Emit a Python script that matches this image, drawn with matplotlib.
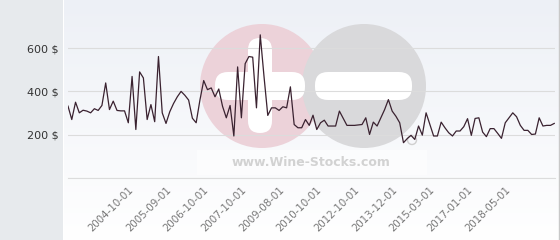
import matplotlib
matplotlib.use("Agg")
import matplotlib.pyplot as plt
import numpy as np
from matplotlib.patches import Circle, FancyBboxPatch, Rectangle

# price per bottle, one value per trade
prices = [332, 270, 350, 301, 313, 309, 301, 320, 312, 335, 439, 316, 355, 312, 310, 310,
          255, 469, 224, 490, 462, 270, 339, 260, 561, 301, 252, 306, 344, 375, 400, 382,
          360, 276, 255, 360, 450, 408, 416, 375, 411, 331, 278, 335, 194, 513, 278, 528,
          561, 558, 324, 661, 469, 289, 324, 324, 312, 329, 324, 421, 247, 232, 232, 270,
          243, 290, 224, 255, 267, 240, 240, 240, 309, 276, 243, 243, 243, 245, 247, 278,
          201, 258, 240, 278, 316, 362, 309, 285, 255, 163, 182, 197, 178, 240, 198, 301,
          247, 194, 194, 258, 232, 209, 194, 217, 217, 237, 274, 197, 275, 278, 212, 191,
          228, 228, 206, 183, 255, 278, 301, 283, 243, 220, 220, 201, 203, 278, 240, 243,
          243, 252]
tick_labels = ['2004-10-01', '2005-09-01', '2006-10-01', '2007-10-01', '2009-08-01',
               '2010-10-01', '2012-10-01', '2013-12-01', '2015-03-01', '2017-01-01',
               '2018-05-01']
y_ticks = [0, 200, 400, 600]

W, H = 560, 240
fig = plt.figure(figsize=(W / 100, H / 100), dpi=100)

# background: left panel, gradient plot area, watermark
bg = fig.add_axes([0, 0, 1, 1], zorder=0)
bg.set_xlim(0, W)
bg.set_ylim(H, 0)
bg.axis('off')
grad = np.linspace(0, 1, 256).reshape(-1, 1)
top = np.array([237, 240, 246]) / 255
bot = np.array([255, 255, 255]) / 255
img = top + (bot - top) * grad[..., None]
bg.imshow(img, extent=[64, W, H, 0], aspect='auto')
bg.add_patch(Rectangle((0, 0), 63, H, color='#e7eaed', lw=0))
bg.plot([559, 559], [0, H], color='#c8c8c8', lw=1)

bg.add_patch(Circle((262, 86), 62, color='#ecd2d9', lw=0))
bg.add_patch(Circle((364, 86), 62, color='#d9d9db', lw=0))
bg.add_patch(FancyBboxPatch((248, 38), 24, 95, boxstyle='round,pad=0,rounding_size=12',
                            color='white', lw=0))
bg.add_patch(FancyBboxPatch((215, 72), 90, 28, boxstyle='round,pad=0,rounding_size=13',
                            color='white', lw=0))
bg.add_patch(FancyBboxPatch((315, 72), 97, 28, boxstyle='round,pad=0,rounding_size=13',
                            color='white', lw=0))
bg.add_patch(Rectangle((197, 150), 230, 25, color='white', alpha=0.5, lw=0))
bg.text(311, 162, 'www.Wine-Stocks.com', ha='center', va='center', fontsize=9,
        fontweight='bold', color='#d2d2d2')
bg.add_patch(Circle((412, 140), 4.5, fill=False, ec='#cfcfcf', lw=1))

ax = fig.add_axes([68 / W, (H - 178) / H, (555 - 68) / W, 178 / H], zorder=1)
ax.patch.set_alpha(0)
x = np.arange(len(prices))
ax.plot(x, prices, color='#3a2230', lw=0.9)
ax.set_xlim(0, 129.2)
ax.set_ylim(0, 822)
for s in ax.spines.values():
    s.set_visible(False)

ax.set_yticks(y_ticks)
ax.set_yticklabels(['' if v == 0 else f'{v} $' for v in y_ticks])
ax.grid(axis='y', color='#dcdcdc', lw=0.8)
ax.axhline(0, color='#dcdcdc', lw=0.8, clip_on=False)
ax.tick_params(axis='y', length=0, pad=7, labelsize=8, labelcolor='#333333')

ax.set_xticks(np.arange(16, 16 + 10 * len(tick_labels), 10))
ax.set_xticklabels(tick_labels, rotation=45, ha='right', va='top', rotation_mode='anchor')
ax.tick_params(axis='x', length=0, pad=5, labelsize=7.4, labelcolor='#777777')

fig.savefig('out.png', dpi=100)
